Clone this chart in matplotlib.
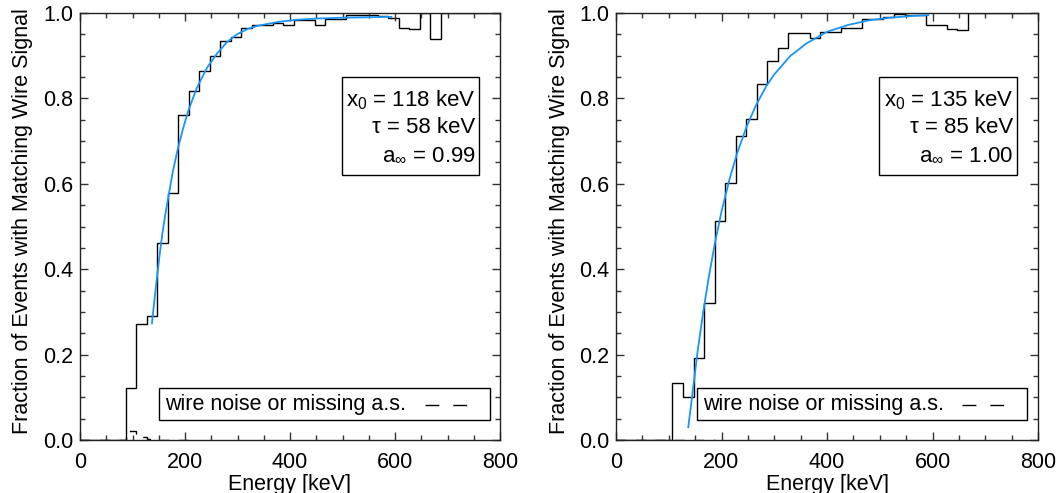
import numpy as np
import matplotlib
matplotlib.use("Agg")
import matplotlib.pyplot as plt
from matplotlib.patches import Rectangle
from matplotlib.ticker import MultipleLocator, FormatStrFormatter

plt.rcParams["font.family"] = ["Liberation Sans", "DejaVu Sans"]
plt.rcParams["mathtext.fontset"] = "custom"
plt.rcParams["mathtext.rm"] = "Liberation Sans"
plt.rcParams["mathtext.it"] = "Liberation Sans:italic"

# --- data ----------------------------------------------------------------
BIN_WIDTH = 20  # keV

# left panel
left_first_edge = 87
left_frac = [0.122, 0.271, 0.291, 0.462, 0.578, 0.761, 0.817, 0.863, 0.900,
             0.935, 0.944, 0.964, 0.973, 0.973, 0.976, 0.972, 0.984, 0.984,
             0.972, 0.985, 0.985, 0.995, 0.995, 0.995, 0.994, 0.988, 0.966,
             0.963, 1.000, 0.938, 1.000, 1.000, 1.000, 1.000, 1.000, 1.000]
left_noise = [0.021, 0.006, 0.003, 0.0, 0.0, 0.0]
left_fit_e = [137, 142, 147, 152, 157, 162, 168, 177, 186, 196, 206, 222, 242,
              261, 280, 299, 320, 338, 360, 377, 411, 450, 500, 550, 593]
left_fit_y = [0.273, 0.330, 0.385, 0.437, 0.484, 0.525, 0.567, 0.630, 0.680,
              0.728, 0.770, 0.823, 0.872, 0.905, 0.932, 0.950, 0.963, 0.970,
              0.975, 0.979, 0.984, 0.987, 0.989, 0.990, 0.991]
left_params = ["118 keV", "58 keV", "0.99"]

# right panel
right_first_edge = 107
right_frac = [0.134, 0.100, 0.191, 0.320, 0.514, 0.601, 0.712, 0.752, 0.834,
              0.888, 0.917, 0.952, 0.952, 0.941, 0.955, 0.955, 0.964, 0.964,
              0.985, 0.985, 0.991, 0.997, 0.995, 0.995, 0.972, 0.972, 0.963,
              0.960, 1.000, 1.000, 1.000, 1.000, 1.000, 1.000]
right_noise = [0.0, 0.0, 0.0, 0.0]
right_fit_e = [137, 142, 147, 155, 165, 175, 187, 200, 215, 230, 248, 265, 285,
               300, 330, 349, 360, 400, 440, 480, 520, 560, 592]
right_fit_y = [0.030, 0.079, 0.130, 0.210, 0.297, 0.375, 0.458, 0.535, 0.610,
               0.673, 0.735, 0.783, 0.829, 0.856, 0.899, 0.917, 0.928, 0.956,
               0.972, 0.983, 0.989, 0.993, 0.995]
right_params = ["135 keV", "85 keV", "1.00"]

FIT_COLOR = "#1896F8"
FS = 15.5
DASH = (0, (7, 7))


def draw_panel(ax, first_edge, frac, noise, fit_e, fit_y, params, ylabel_x, legend_x):
    edges = first_edge + BIN_WIDTH * np.arange(len(frac) + 1)
    # histogram, starting from zero at E=0
    ax.stairs(np.r_[0.0, frac], np.r_[0.0, edges], baseline=None,
              color="black", linewidth=1.0)
    n_edges = first_edge + BIN_WIDTH * np.arange(len(noise) + 1)
    ax.stairs(np.r_[0.0, noise], np.r_[0.0, n_edges], baseline=None,
              color="black", linewidth=1.0, linestyle=DASH)
    ax.plot(fit_e, fit_y, color=FIT_COLOR, linewidth=1.3)

    ax.set_xlim(0, 800)
    ax.set_ylim(0, 1.0)
    ax.xaxis.set_major_locator(MultipleLocator(200))
    ax.xaxis.set_minor_locator(MultipleLocator(50))
    ax.yaxis.set_major_locator(MultipleLocator(0.2))
    ax.yaxis.set_minor_locator(MultipleLocator(0.05))
    ax.yaxis.set_major_formatter(FormatStrFormatter("%.1f"))
    ax.tick_params(which="both", direction="in", top=True, right=True,
                   color="#333333", width=1.0)
    ax.tick_params(which="major", length=6)
    ax.tick_params(which="minor", length=3.5)
    ax.tick_params(axis="x", which="major", pad=9, labelsize=FS)
    ax.tick_params(axis="y", which="major", pad=5, labelsize=FS)
    for sp in ax.spines.values():
        sp.set_linewidth(1.0)
        sp.set_color("#222222")

    ax.text(ylabel_x, 0.513, "Fraction of Events with Matching Wire Signal",
            rotation=90, ha="center", va="center", fontsize=FS,
            transform=ax.transAxes)
    ax.text(0.5, -0.079, "Energy [keV]", ha="center", va="top", fontsize=FS,
            transform=ax.transAxes, clip_on=False)

    # parameter box
    ax.add_patch(Rectangle((0.623, 0.621), 0.327, 0.228, transform=ax.transAxes,
                           facecolor="white", edgecolor="black", linewidth=1.0,
                           zorder=3))
    lines = [r"x$_{\mathrm{0}}$ = " + params[0],
             "\u03c4 = " + params[1],
             r"a$_{\mathrm{\infty}}$ = " + params[2]]
    for txt, yy in zip(lines, [0.796, 0.733, 0.667]):
        ax.text(0.942, yy, txt, ha="right", va="center", fontsize=FS + 0.5,
                transform=ax.transAxes, zorder=4)

    # legend box for the dashed histogram
    x0, x1 = legend_x
    ax.add_patch(Rectangle((x0, 0.047), x1 - x0, 0.075, transform=ax.transAxes,
                           facecolor="white", edgecolor="black", linewidth=1.0,
                           zorder=3))
    ax.text(x0 + 0.015, 0.083, "wire noise or missing a.s.", ha="left",
            va="center", fontsize=FS, transform=ax.transAxes, zorder=4)
    ax.plot([x1 - 0.155, x1 - 0.052], [0.083, 0.083], color="black",
            linewidth=1.0, linestyle=(0, (10, 10)), transform=ax.transAxes,
            zorder=4)


fig = plt.figure(figsize=(10.58, 4.93), dpi=100)
ax1 = fig.add_axes([80 / 1058, 1 - 440 / 493, 420 / 1058, 427 / 493])
ax2 = fig.add_axes([616 / 1058, 1 - 440 / 493, 422 / 1058, 427 / 493])

draw_panel(ax1, left_first_edge, left_frac, left_noise, left_fit_e, left_fit_y,
           left_params, -0.138, (0.188, 0.976))
draw_panel(ax2, right_first_edge, right_frac, right_noise, right_fit_e,
           right_fit_y, right_params, -0.133, (0.192, 0.974))

fig.savefig("out.png", dpi=100)
